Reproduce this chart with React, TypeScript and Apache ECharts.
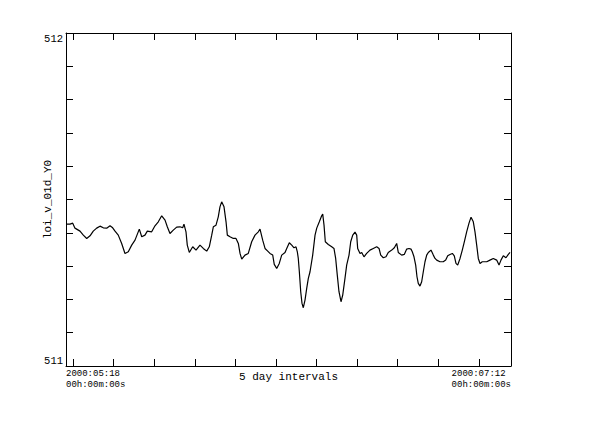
import React, { useEffect, useRef } from "react";
import * as echarts from "echarts";

// Days elapsed since 2000:05:18 00h:00m:00s
const days = [
  0.0, 0.49, 0.83, 1.11, 1.73, 2.14, 2.56, 2.97, 3.37, 3.79, 4.2, 4.61, 5.03, 5.44, 5.77, 6.06, 6.46, 6.88, 7.29, 7.7,
  8.12, 8.53, 9.06, 9.36, 9.76, 10.05, 10.59, 11.0, 11.41, 11.83, 12.24, 12.52, 12.85, 13.26,
  13.68, 14.09, 14.42, 14.58, 14.83, 14.99, 15.24, 15.66, 16.07, 16.56, 16.97, 17.39, 17.71, 18.01, 18.21, 18.54,
  18.82, 19.03, 19.24, 19.53, 19.78, 19.94, 20.27, 20.68, 21.01, 21.3, 21.51, 21.72, 22.12, 22.53, 22.95, 23.36,
  23.77, 23.98, 24.31, 24.6, 24.93, 25.21, 25.55, 25.74, 26.04, 26.36, 26.66,
  27.07, 27.28, 27.6, 27.9, 28.18, 28.43, 28.59, 28.71, 28.84, 29.01, 29.17, 29.33, 29.54, 29.75, 29.95, 30.16,
  30.49, 30.78, 30.99, 31.31, 31.6, 31.73, 31.89, 32.05, 32.42, 32.84, 33.12, 33.33, 33.53, 33.74, 33.99, 34.2,
  34.48, 34.69, 34.98, 35.19, 35.44, 35.72, 35.93, 36.05, 36.34, 36.55, 36.83, 37.16, 37.57, 37.98, 38.4, 38.69,
  38.9, 39.22, 39.55, 39.83, 40.26, 40.58,
  40.87, 41.07, 41.49, 41.81, 42.11, 42.39, 42.64, 42.8, 43.01, 43.22, 43.38, 43.54, 43.75, 43.96, 44.16, 44.37,
  44.58, 44.78, 45.11, 45.4, 45.61, 45.82, 46.22, 46.63, 46.93, 47.18, 47.46, 47.75, 47.99, 48.2, 48.41, 48.7,
  48.98, 49.23, 49.52, 49.81, 50.06, 50.34, 50.55, 50.76, 50.96, 51.17, 51.45, 52.0, 52.4, 52.81, 53.23, 53.52,
  53.76, 54.05, 54.38, 54.67, 54.88,
];

const values = [
  511.426, 511.426, 511.429, 511.414, 511.405, 511.393, 511.383, 511.391, 511.405, 511.414, 511.42, 511.415, 511.414,
  511.421, 511.415, 511.405, 511.393, 511.368, 511.338, 511.343, 511.363, 511.378, 511.411, 511.388, 511.393, 511.405,
  511.403, 511.421, 511.433, 511.451, 511.438, 511.418, 511.398, 511.408,
  511.417, 511.418, 511.415, 511.426, 511.403, 511.363, 511.341, 511.358, 511.348, 511.363, 511.353, 511.345, 511.358,
  511.393, 511.418, 511.423, 511.448, 511.478, 511.493, 511.478, 511.433, 511.393, 511.388, 511.383, 511.383, 511.368,
  511.338, 511.321, 511.333, 511.338, 511.373, 511.393, 511.403, 511.411, 511.378, 511.353, 511.345, 511.338, 511.333,
  511.305, 511.293, 511.308, 511.333,
  511.341, 511.353, 511.37, 511.363, 511.355, 511.358, 511.343, 511.323, 511.283, 511.223, 511.188, 511.175, 511.198,
  511.233, 511.263, 511.283, 511.333, 511.393, 511.414, 511.433, 511.451, 511.456, 511.423, 511.373, 511.365, 511.358,
  511.353, 511.323, 511.273, 511.223, 511.193, 511.213, 511.263, 511.303, 511.333, 511.373, 511.393, 511.402, 511.393,
  511.353, 511.338, 511.341, 511.328, 511.338, 511.348, 511.353, 511.358, 511.353, 511.333, 511.325, 511.328, 511.341,
  511.348, 511.355,
  511.368, 511.341, 511.333, 511.335, 511.351, 511.353, 511.351, 511.343, 511.328, 511.303, 511.268, 511.248, 511.24,
  511.253, 511.283, 511.313, 511.333, 511.341, 511.348, 511.333, 511.323, 511.318, 511.313, 511.313, 511.318, 511.331,
  511.335, 511.338, 511.331, 511.308, 511.303, 511.323, 511.348, 511.373, 511.403, 511.429, 511.447, 511.433, 511.403,
  511.363, 511.323, 511.308, 511.313, 511.313, 511.318, 511.323, 511.318, 511.303, 511.318, 511.331, 511.325, 511.335,
  511.341,
];

const xTickDays = [0.87, 5.88, 10.9, 15.92, 20.93, 25.95, 30.97, 35.99, 41.0, 46.02, 51.04];
const xLabelDays = [0, 55];
const xLabels = ["2000:05:18\n00h:00m:00s", "2000:07:12 \n00h:00m:00s"];
const yLabelValues = [511, 512];
const yName = "loi_v_01d_Y0";
const xName = "5 day intervals";

const FONT = "'Liberation Mono', 'DejaVu Sans Mono', monospace";

export default function App() {
  const ref = useRef<HTMLDivElement>(null);
  useEffect(() => {
    document.body.style.margin = "0";
    const chart = echarts.init(ref.current!, null, { renderer: "svg" });
    const lineStyle = { color: "#000", width: 1 };
    const tick = { show: true, inside: true, length: 7, customValues: xTickDays, lineStyle };
    chart.setOption({
      animation: false,
      backgroundColor: "#fff",
      grid: { left: 66, right: 101, top: 33, bottom: 76, containLabel: false, outerBoundsMode: "none" },
      xAxis: [
        {
          type: "value",
          position: "bottom",
          min: 0,
          max: 55,
          axisLine: { show: true, onZero: false, lineStyle },
          axisTick: tick,
          splitLine: { show: false },
          axisLabel: {
            customValues: xLabelDays,
            formatter: (v: number) => xLabels[xLabelDays.indexOf(v)] ?? "",
            alignMinLabel: "left",
            alignMaxLabel: "right",
            fontFamily: FONT,
            fontSize: 9,
            lineHeight: 11,
            color: "#000",
            margin: 2,
          },
          name: xName,
          nameLocation: "middle",
          nameGap: 5,
          nameMoveOverlap: false,
          nameTextStyle: { fontFamily: FONT, fontSize: 11, color: "#000", verticalAlign: "top" },
        },
        {
          type: "value",
          position: "top",
          min: 0,
          max: 55,
          axisLine: { show: true, onZero: false, lineStyle },
          axisTick: tick,
          splitLine: { show: false },
          axisLabel: { show: false },
        },
      ],
      yAxis: [
        {
          type: "value",
          position: "left",
          min: 511,
          max: 512,
          interval: 0.1,
          axisLine: { show: true, onZero: false, lineStyle },
          axisTick: { show: true, inside: true, length: 7, lineStyle },
          splitLine: { show: false },
          axisLabel: {
            customValues: yLabelValues,
            formatter: (v: number) => String(Math.round(v)),
            verticalAlignMinLabel: "bottom",
            verticalAlignMaxLabel: "top",
            fontFamily: FONT,
            fontSize: 10.5,
            color: "#000",
            margin: 3,
          },
          name: yName,
          nameLocation: "middle",
          nameRotate: 90,
          nameGap: 13,
          nameMoveOverlap: false,
          nameTextStyle: { fontFamily: FONT, fontSize: 11, color: "#000" },
        },
        {
          type: "value",
          position: "right",
          min: 511,
          max: 512,
          interval: 0.1,
          axisLine: { show: true, onZero: false, lineStyle },
          axisTick: { show: true, inside: true, length: 7, lineStyle },
          splitLine: { show: false },
          axisLabel: { show: false },
        },
      ],
      series: [
        {
          type: "line",
          xAxisIndex: 0,
          yAxisIndex: 0,
          data: days.map((d, i) => [d, values[i]]),
          showSymbol: false,
          silent: true,
          lineStyle: { color: "#000", width: 1.2 },
        },
      ],
    });
    return () => chart.dispose();
  }, []);
  return <div ref={ref} style={{ width: 612, height: 442 }} />;
}
